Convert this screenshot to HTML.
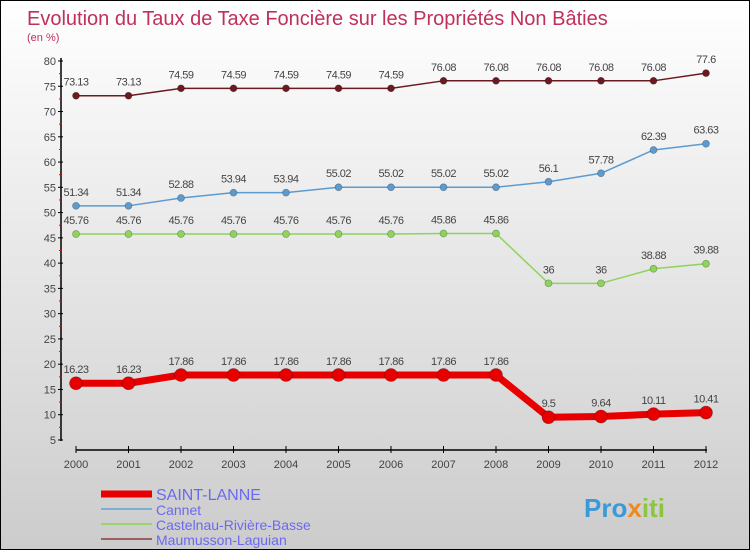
<!DOCTYPE html>
<html><head><meta charset="utf-8"><style>
body{margin:0}
#c{width:748px;height:548px;border:1px solid #000;background:linear-gradient(#fff,#ccc);position:relative;overflow:hidden;font-family:"Liberation Sans",sans-serif}
text{font-family:"Liberation Sans",sans-serif}
</style></head><body>
<div id="c">
<svg id="s" width="748" height="548">
<text x="26" y="24" font-size="20" fill="#c0305a">Evolution du Taux de Taxe Foncière sur les Propriétés Non Bâties</text>
<text x="26" y="40" font-size="11" fill="#c0305a">(en %)</text>
<text x="583" y="516" font-size="26" font-weight="bold" fill="#3a9ad9">Pro<tspan fill="#f08a1c">x</tspan><tspan fill="#8cc63f">iti</tspan></text>
</svg>
</div>
<script>
const years=[2000,2001,2002,2003,2004,2005,2006,2007,2008,2009,2010,2011,2012];
const saintLanne=[16.23,16.23,17.86,17.86,17.86,17.86,17.86,17.86,17.86,9.5,9.64,10.11,10.41];
const cannet=[51.34,51.34,52.88,53.94,53.94,55.02,55.02,55.02,55.02,56.1,57.78,62.39,63.63];
const castelnau=[45.76,45.76,45.76,45.76,45.76,45.76,45.76,45.86,45.86,36,36,38.88,39.88];
const maumusson=[73.13,73.13,74.59,74.59,74.59,74.59,74.59,76.08,76.08,76.08,76.08,76.08,77.6];
const yTicks=[5,10,15,20,25,30,35,40,45,50,55,60,65,70,75,80];
const svg=document.getElementById('s');const NS='http://www.w3.org/2000/svg';
function X(i){return 75+i*52.5;}
function Y(v){return 60+(80-v)*5.053;}
function mk(t,a,p){const e=document.createElementNS(NS,t);for(const k in a)e.setAttribute(k,a[k]);(p||svg).appendChild(e);return e;}
let e;
e=mk('line',{x1:60,y1:57,x2:60,y2:440,stroke:'#000','stroke-width':1.5});


e=mk('line',{x1:75,y1:449,x2:706,y2:449,stroke:'#000','stroke-width':1.5});


yTicks.forEach(v=>{
 mk('line',{x1:57,y1:Y(v),x2:62,y2:Y(v),stroke:'#000'});
 if(v<80)mk('line',{x1:58,y1:Y(v+2.5),x2:61,y2:Y(v+2.5),stroke:'#e00'});
 e=mk('text',{x:55,y:Y(v)+4,'font-size':11,fill:'#444','text-anchor':'end'});e.textContent=v;
 
 
});
years.forEach((y,i)=>{
 mk('line',{x1:X(i),y1:445,x2:X(i),y2:452,stroke:'#000'});
 e=mk('text',{x:X(i),y:467,'font-size':11,fill:'#444','text-anchor':'middle'});e.textContent=y;
 
 
});
function series(vals,color,w,r,name){
 const g=mk('g',{});
 
 
 mk('polyline',{points:vals.map((v,i)=>X(i)+','+Y(v)).join(' '),fill:'none',stroke:color,'stroke-width':w,'stroke-linejoin':'round'},g);
 vals.forEach((v,i)=>{
  const c=mk('circle',{cx:X(i),cy:Y(v),r:r,fill:color,stroke:'rgba(0,0,0,0.3)','stroke-width':0.7},g);
  
  
  const t=mk('text',{x:X(i),y:Y(v)-10,'font-size':11,fill:'#444','text-anchor':'middle','letter-spacing':'-0.5'},g);t.textContent=v;
  
  
 });
}
series(maumusson,'#6b1a1f',1.5,3.5,'maumusson');
series(cannet,'#5b9bd0',1.5,3.5,'cannet');
series(castelnau,'#8ed35a',1.5,3.5,'castelnau');
series(saintLanne,'#e80000',7,6.5,'saint-lanne');
const leg=[['SAINT-LANNE','#e80000',7],['Cannet','#7ab0d8',2],['Castelnau-Rivière-Basse','#9ad46e',2],['Maumusson-Laguian','#9a6060',2]];
leg.forEach((l,i)=>{
 const y=493+i*15;
 const g=mk('g',{});
 
 
 mk('line',{x1:100,y1:y,x2:151,y2:y,stroke:l[1],'stroke-width':l[2]},g);
 const t=mk('text',{x:155,y:y+6,'font-size':i==0?16:14,fill:'#6a6af0'},g);t.textContent=l[0];
});
</script>
</body></html>
